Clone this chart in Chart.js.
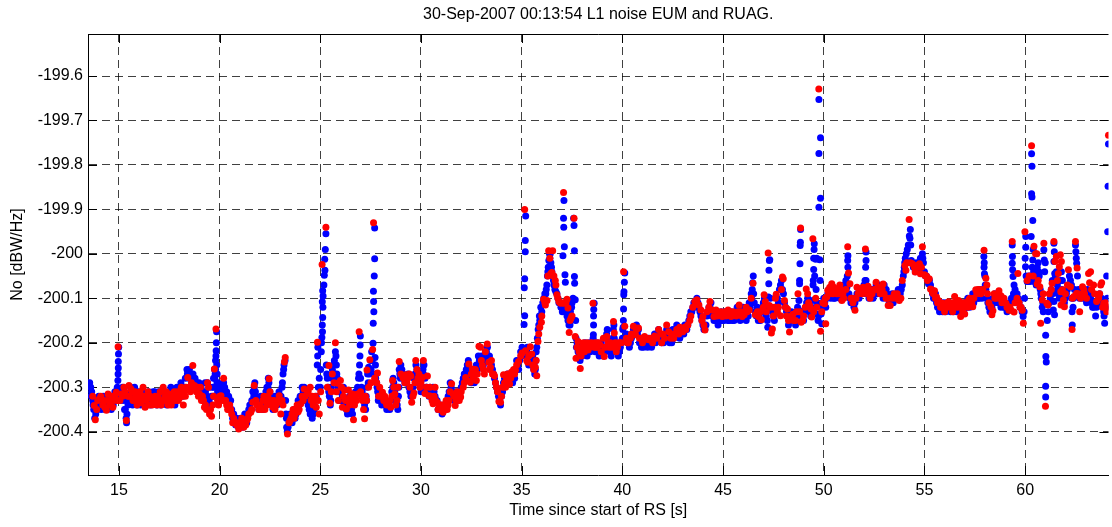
<!DOCTYPE html>
<html>
<head>
<meta charset="utf-8">
<script src="https://cdn.jsdelivr.net/npm/chart.js@4/dist/chart.umd.min.js"></script>
<style>
  html, body { margin: 0; padding: 0; background: #ffffff; overflow: hidden; }
  #wrap { width: 1112px; height: 527px; }
</style>
</head>
<body>
<div id="wrap"><canvas id="noise" width="1112" height="527"></canvas></div>
<script>
// Tick positions
const xTicks = [15, 20, 25, 30, 35, 40, 45, 50, 55, 60];
const yTicks = [-200.4, -200.3, -200.2, -200.1, -200.0, -199.9, -199.8, -199.7, -199.6];

// EUM L1 noise estimate [time s, No dBW/Hz]
const eumNoise = [
  [13.55,-200.29],[13.6,-200.30],[13.65,-200.31],[13.7,-200.33],[13.75,-200.35],[13.8,-200.37],[13.85,-200.36],[13.9,-200.34],
  [14.0,-200.32],[14.1,-200.33],[14.2,-200.34],[14.3,-200.33],[14.4,-200.32],[14.5,-200.34],[14.6,-200.33],[14.7,-200.32],
  [14.8,-200.31],[14.9,-200.32],[14.95,-200.285],[14.96,-200.27],[14.97,-200.257],[14.97,-200.242],[14.98,-200.225],[14.99,-200.21],
  [15.05,-200.31],[15.15,-200.32],[15.25,-200.33],[15.32,-200.35],[15.36,-200.37],[15.4,-200.36],[15.45,-200.34],[15.5,-200.32],
  [15.6,-200.31],[15.7,-200.33],[15.8,-200.32],[15.9,-200.34],[16.0,-200.33],[16.1,-200.32],[16.2,-200.33],[16.3,-200.34],
  [16.4,-200.32],[16.5,-200.33],[16.6,-200.32],[16.7,-200.31],[16.8,-200.33],[16.9,-200.32],[17.0,-200.33],[17.1,-200.32],
  [17.2,-200.31],[17.3,-200.33],[17.4,-200.32],[17.5,-200.31],[17.6,-200.32],[17.7,-200.33],[17.8,-200.31],[17.9,-200.32],
  [18.0,-200.30],[18.1,-200.31],[18.2,-200.30],[18.3,-200.28],[18.4,-200.27],[18.5,-200.26],[18.6,-200.28],[18.7,-200.29],
  [18.8,-200.30],[18.9,-200.31],[19.0,-200.31],[19.1,-200.32],[19.2,-200.33],[19.3,-200.31],[19.4,-200.29],[19.5,-200.30],
  [19.6,-200.32],[19.65,-200.30],[19.7,-200.28],[19.75,-200.26],[19.78,-200.27],[19.8,-200.24],[19.82,-200.23],[19.83,-200.218],
  [19.84,-200.20],[19.85,-200.175],[19.87,-200.29],[19.9,-200.31],[19.95,-200.33],[20.0,-200.32],[20.1,-200.30],[20.2,-200.29],
  [20.25,-200.30],[20.3,-200.32],[20.4,-200.33],[20.5,-200.34],[20.6,-200.35],[20.7,-200.36],[20.75,-200.375],[20.8,-200.385],
  [20.9,-200.38],[21.0,-200.385],[21.1,-200.38],[21.2,-200.375],[21.3,-200.37],[21.4,-200.36],[21.5,-200.34],[21.6,-200.33],
  [21.7,-200.32],[21.72,-200.30],[21.75,-200.29],[21.8,-200.32],[21.9,-200.34],[22.0,-200.33],[22.1,-200.34],[22.2,-200.33],
  [22.3,-200.31],[22.4,-200.30],[22.45,-200.29],[22.5,-200.31],[22.6,-200.33],[22.7,-200.34],[22.8,-200.33],[22.9,-200.32],
  [23.0,-200.33],[23.1,-200.30],[23.15,-200.27],[23.2,-200.25],[23.25,-200.24],[23.3,-200.36],[23.33,-200.39],[23.36,-200.40],
  [23.45,-200.38],[23.55,-200.37],[23.65,-200.36],[23.75,-200.37],[23.85,-200.35],[23.95,-200.34],[24.05,-200.33],[24.15,-200.31],
  [24.2,-200.30],[24.3,-200.32],[24.4,-200.34],[24.5,-200.36],[24.6,-200.37],[24.7,-200.35],[24.8,-200.32],[24.85,-200.25],
  [24.87,-200.23],[24.88,-200.21],[25.0,-200.30],[25.05,-200.22],[25.08,-200.188],[25.1,-200.16],[25.12,-200.143],[25.1,-200.108],
  [25.14,-200.095],[25.12,-200.083],[25.2,-200.048],[25.23,-200.037],[25.22,-200.012],[25.28,-199.955],[25.3,-200.25],[25.35,-200.28],
  [25.4,-200.30],[25.45,-200.32],[25.5,-200.34],[25.55,-200.30],[25.6,-200.26],[25.7,-200.24],[25.75,-200.22],[25.8,-200.25],
  [25.85,-200.28],[25.9,-200.31],[25.95,-200.33],[26.0,-200.30],[26.1,-200.32],[26.2,-200.34],[26.3,-200.35],[26.4,-200.33],
  [26.5,-200.34],[26.6,-200.36],[26.7,-200.33],[26.8,-200.31],[26.9,-200.28],[26.95,-200.25],[26.97,-200.23],[26.98,-200.205],
  [26.99,-200.185],[27.05,-200.30],[27.1,-200.32],[27.2,-200.34],[27.3,-200.33],[27.32,-200.30],[27.35,-200.27],[27.4,-200.255],
  [27.5,-200.24],[27.55,-200.22],[27.62,-200.201],[27.63,-200.156],[27.65,-200.107],[27.64,-200.084],[27.7,-200.011],[27.7,-199.942],
  [27.72,-200.233],[27.74,-200.25],[27.76,-200.27],[27.8,-200.29],[27.85,-200.31],[27.9,-200.32],[28.0,-200.33],[28.1,-200.32],
  [28.2,-200.34],[28.3,-200.35],[28.4,-200.34],[28.5,-200.33],[28.6,-200.30],[28.65,-200.29],[28.7,-200.31],[28.8,-200.33],
  [28.85,-200.35],[28.9,-200.30],[28.95,-200.27],[29.0,-200.25],[29.1,-200.27],[29.2,-200.29],[29.3,-200.28],[29.4,-200.30],
  [29.5,-200.32],[29.6,-200.30],[29.7,-200.27],[29.8,-200.26],[29.9,-200.29],[30.0,-200.31],[30.1,-200.26],[30.15,-200.25],
  [30.2,-200.28],[30.3,-200.30],[30.4,-200.32],[30.5,-200.31],[30.6,-200.30],[30.7,-200.32],[30.8,-200.33],[30.9,-200.34],
  [31.0,-200.35],[31.1,-200.34],[31.2,-200.35],[31.3,-200.33],[31.4,-200.31],[31.5,-200.30],[31.6,-200.32],[31.7,-200.31],
  [31.8,-200.33],[31.9,-200.32],[32.0,-200.30],[32.1,-200.28],[32.2,-200.27],[32.3,-200.25],[32.35,-200.24],[32.4,-200.27],
  [32.5,-200.29],[32.6,-200.28],[32.7,-200.27],[32.8,-200.26],[32.9,-200.24],[33.0,-200.23],[33.1,-200.25],[33.2,-200.22],
  [33.3,-200.21],[33.4,-200.23],[33.5,-200.25],[33.6,-200.27],[33.7,-200.29],[33.8,-200.31],[33.9,-200.33],[34.0,-200.32],
  [34.1,-200.29],[34.2,-200.28],[34.3,-200.27],[34.4,-200.29],[34.5,-200.28],[34.6,-200.27],[34.7,-200.26],[34.8,-200.25],
  [34.9,-200.24],[35.0,-200.23],[35.05,-200.22],[35.12,-200.159],[35.15,-200.139],[35.13,-200.076],[35.15,-200.056],[35.18,-199.995],
  [35.18,-199.97],[35.2,-199.915],[35.25,-200.22],[35.3,-200.24],[35.4,-200.23],[35.5,-200.25],[35.6,-200.26],[35.65,-200.27],
  [35.7,-200.24],[35.75,-200.21],[35.85,-200.16],[35.9,-200.15],[36.0,-200.13],[36.1,-200.10],[36.2,-200.09],[36.25,-200.07],
  [36.3,-200.04],[36.35,-200.015],[36.4,-200.01],[36.45,-200.02],[36.5,-200.04],[36.55,-200.05],[36.6,-200.07],[36.7,-200.085],
  [36.8,-200.10],[36.9,-200.11],[37.0,-200.12],[37.05,-200.004],[37.08,-199.92],[37.09,-199.94],[37.1,-199.88],[37.12,-199.984],
  [37.15,-200.047],[37.17,-200.064],[37.2,-200.13],[37.3,-200.15],[37.4,-200.16],[37.45,-200.14],[37.5,-200.11],[37.58,-199.92],
  [37.6,-199.936],[37.62,-199.993],[37.62,-200.051],[37.63,-200.066],[37.66,-200.103],[37.7,-200.19],[37.75,-200.20],[37.8,-200.22],
  [37.9,-200.24],[38.0,-200.23],[38.1,-200.21],[38.2,-200.22],[38.3,-200.21],[38.4,-200.22],[38.5,-200.20],[38.56,-200.182],
  [38.57,-200.16],[38.57,-200.14],[38.58,-200.125],[38.6,-200.111],[38.7,-200.21],[38.8,-200.22],[38.9,-200.21],[39.0,-200.22],
  [39.1,-200.21],[39.2,-200.19],[39.25,-200.17],[39.3,-200.20],[39.4,-200.22],[39.5,-200.20],[39.55,-200.17],[39.58,-200.16],
  [39.6,-200.19],[39.7,-200.22],[39.8,-200.23],[39.9,-200.21],[40.0,-200.19],[40.05,-200.15],[40.06,-200.124],[40.07,-200.092],
  [40.08,-200.085],[40.1,-200.064],[40.12,-200.043],[40.2,-200.18],[40.3,-200.19],[40.4,-200.20],[40.5,-200.18],[40.6,-200.17],
  [40.7,-200.16],[40.8,-200.17],[40.9,-200.19],[41.0,-200.20],[41.1,-200.19],[41.2,-200.20],[41.3,-200.19],[41.4,-200.20],
  [41.5,-200.19],[41.6,-200.18],[41.7,-200.19],[41.8,-200.17],[41.9,-200.18],[42.0,-200.19],[42.1,-200.18],[42.2,-200.17],
  [42.3,-200.18],[42.4,-200.19],[42.5,-200.17],[42.6,-200.18],[42.7,-200.16],[42.8,-200.17],[42.9,-200.18],[43.0,-200.17],
  [43.1,-200.16],[43.2,-200.17],[43.3,-200.15],[43.4,-200.13],[43.5,-200.12],[43.6,-200.11],[43.7,-200.10],[43.8,-200.12],
  [43.9,-200.14],[44.0,-200.16],[44.1,-200.17],[44.2,-200.14],[44.3,-200.12],[44.4,-200.11],[44.5,-200.13],[44.6,-200.14],
  [44.7,-200.15],[44.8,-200.14],[44.9,-200.13],[45.0,-200.14],[45.1,-200.13],[45.2,-200.14],[45.3,-200.15],[45.4,-200.13],
  [45.5,-200.14],[45.6,-200.13],[45.7,-200.12],[45.8,-200.14],[45.9,-200.13],[46.0,-200.12],[46.1,-200.14],[46.2,-200.13],
  [46.3,-200.11],[46.4,-200.09],[46.45,-200.08],[46.5,-200.05],[46.55,-200.11],[46.6,-200.13],[46.7,-200.12],[46.8,-200.14],
  [46.9,-200.13],[47.0,-200.11],[47.05,-200.10],[47.22,-200.165],[47.24,-200.127],[47.25,-200.097],[47.27,-200.067],[47.28,-200.037],
  [47.3,-200.015],[47.32,-200.013],[47.4,-200.12],[47.5,-200.14],[47.6,-200.12],[47.7,-200.10],[47.8,-200.08],[47.9,-200.06],
  [48.0,-200.09],[48.1,-200.12],[48.2,-200.14],[48.3,-200.15],[48.4,-200.13],[48.5,-200.14],[48.6,-200.16],[48.7,-200.12],
  [48.76,-200.127],[48.77,-200.105],[48.8,-200.067],[48.8,-200.06],[48.82,-200.022],[48.83,-199.981],[48.84,-199.974],[48.85,-199.945],
  [48.9,-200.13],[49.0,-200.15],[49.1,-200.12],[49.2,-200.10],[49.3,-200.13],[49.4,-200.12],[49.45,-200.127],[49.45,-200.105],
  [49.47,-200.07],[49.48,-200.06],[49.5,-200.035],[49.5,-200.01],[49.52,-199.99],[49.53,-199.977],[49.6,-200.012],[49.65,-200.01],
  [49.7,-200.135],[49.72,-200.15],[49.76,-199.653],[49.84,-199.739],[49.76,-199.774],[49.84,-199.875],[49.76,-199.895],[49.8,-200.013],
  [49.85,-200.112],[49.87,-200.135],[49.9,-200.157],[50.0,-200.10],[50.1,-200.12],[50.2,-200.09],[50.3,-200.08],[50.4,-200.09],
  [50.5,-200.10],[50.6,-200.08],[50.7,-200.09],[50.8,-200.10],[50.9,-200.09],[51.0,-200.07],[51.1,-200.06],[51.15,-200.075],
  [51.17,-200.05],[51.2,-200.03],[51.19,-200.015],[51.2,-200.004],[51.3,-200.10],[51.4,-200.11],[51.5,-200.12],[51.6,-200.10],
  [51.7,-200.09],[51.8,-200.08],[51.9,-200.09],[52.0,-200.07],[52.1,-200.09],[52.1,-200.06],[52.08,-200.03],[52.1,-200.015],
  [52.1,-199.996],[52.2,-200.08],[52.3,-200.09],[52.4,-200.08],[52.5,-200.09],[52.6,-200.07],[52.7,-200.08],[52.8,-200.09],
  [52.9,-200.08],[53.0,-200.07],[53.1,-200.08],[53.2,-200.10],[53.3,-200.11],[53.4,-200.09],[53.5,-200.10],[53.6,-200.09],
  [53.7,-200.08],[53.8,-200.09],[53.9,-200.07],[53.95,-200.05],[54.0,-200.03],[54.05,-200.01],[54.15,-199.99],[54.2,-199.98],
  [54.25,-199.96],[54.3,-199.945],[54.35,-200.015],[54.4,-200.02],[54.5,-200.03],[54.6,-200.02],[54.7,-200.03],[54.8,-200.01],
  [54.9,-200.00],[54.95,-200.02],[55.0,-200.04],[55.1,-200.05],[55.2,-200.067],[55.3,-200.07],[55.4,-200.09],[55.5,-200.10],
  [55.6,-200.11],[55.7,-200.12],[55.8,-200.11],[55.9,-200.13],[56.0,-200.12],[56.1,-200.11],[56.2,-200.12],[56.3,-200.13],
  [56.4,-200.12],[56.5,-200.11],[56.6,-200.13],[56.7,-200.12],[56.8,-200.13],[56.9,-200.12],[57.0,-200.11],[57.1,-200.12],
  [57.2,-200.11],[57.3,-200.10],[57.4,-200.09],[57.5,-200.10],[57.6,-200.09],[57.7,-200.10],[57.8,-200.09],[57.95,-200.006],
  [57.97,-200.02],[57.96,-200.03],[57.98,-200.045],[58.0,-200.05],[58.02,-200.07],[58.1,-200.10],[58.2,-200.12],[58.3,-200.13],
  [58.4,-200.10],[58.5,-200.09],[58.6,-200.10],[58.7,-200.11],[58.8,-200.12],[58.9,-200.11],[59.0,-200.12],[59.1,-200.13],
  [59.2,-200.12],[59.3,-200.11],[59.36,-199.98],[59.37,-200.006],[59.36,-200.021],[59.38,-200.036],[59.4,-200.051],[59.45,-200.07],
  [59.5,-200.08],[59.6,-200.09],[59.7,-200.11],[59.8,-200.12],[59.9,-200.141],[59.95,-200.13],[60.02,-200.029],[60.0,-200.01],
  [60.03,-199.985],[60.03,-199.961],[60.1,-200.062],[60.15,-200.062],[60.25,-200.062],[60.3,-199.961],[60.32,-199.775],[60.34,-199.803],
  [60.32,-199.865],[60.34,-199.872],[60.38,-199.925],[60.4,-199.99],[60.38,-200.014],[60.4,-200.051],[60.45,-200.062],[60.5,-200.062],
  [60.55,-200.07],[60.6,-200.03],[60.65,-200.02],[60.7,-200.05],[60.75,-200.08],[60.8,-200.10],[60.85,-200.12],[60.9,-200.13],
  [60.93,-199.991],[60.95,-200.014],[61.0,-200.02],[61.02,-200.183],[61.03,-200.231],[61.05,-200.243],[61.02,-200.298],[61.02,-200.322],
  [61.1,-200.15],[61.2,-200.11],[61.3,-200.08],[61.43,-199.976],[61.45,-199.995],[61.43,-200.017],[61.47,-200.044],[61.45,-200.062],
  [61.4,-200.089],[61.43,-200.107],[61.4,-200.126],[61.46,-200.137],[61.55,-200.04],[61.6,-200.07],[61.65,-200.09],[61.7,-200.10],
  [61.8,-200.04],[61.85,-200.06],[61.9,-200.09],[62.0,-200.10],[62.1,-200.08],[62.2,-200.05],[62.3,-200.07],[62.32,-200.10],
  [62.33,-200.13],[62.34,-200.16],[62.4,-200.10],[62.5,-199.98],[62.52,-199.995],[62.54,-200.01],[62.56,-200.021],[62.6,-200.05],
  [62.7,-200.10],[62.8,-200.09],[62.9,-200.08],[63.0,-200.10],[63.1,-200.08],[63.2,-200.09],[63.3,-200.11],[63.4,-200.12],
  [63.5,-200.14],[63.6,-200.11],[63.7,-200.09],[63.8,-200.10],[63.9,-200.13],[63.95,-200.156],[64.05,-200.05],[64.1,-199.95],
  [64.12,-199.848],[64.14,-199.753],
  [13.62,-200.32],[13.72,-200.34],[13.82,-200.33],[13.92,-200.35],[14.02,-200.34],[14.12,-200.35],[14.22,-200.32],[14.32,-200.35],
  [14.42,-200.34],[14.52,-200.32],[14.62,-200.35],[14.72,-200.34],[14.82,-200.33],[14.92,-200.30],[15.08,-200.33],[15.18,-200.30],
  [15.28,-200.35],[15.38,-200.38],[15.48,-200.33],[15.58,-200.30],[15.68,-200.34],[15.78,-200.30],[15.88,-200.33],[15.98,-200.31],
  [16.08,-200.34],[16.18,-200.31],[16.28,-200.32],[16.38,-200.34],[16.48,-200.31],[16.58,-200.34],[16.68,-200.33],[16.78,-200.31],
  [16.88,-200.34],[16.98,-200.31],[17.08,-200.34],[17.18,-200.33],[17.28,-200.31],[17.38,-200.34],[17.48,-200.33],[17.58,-200.30],
  [17.68,-200.31],[17.78,-200.34],[17.88,-200.30],[17.98,-200.32],[18.08,-200.29],[18.18,-200.32],[18.28,-200.30],[18.38,-200.26],
  [18.48,-200.28],[18.58,-200.27],[18.68,-200.27],[18.78,-200.28],[18.88,-200.29],[18.98,-200.29],[19.08,-200.30],[19.18,-200.31],
  [19.28,-200.29],[19.38,-200.32],[19.48,-200.33],[19.58,-200.34],[19.68,-200.32],[19.72,-200.30],[19.76,-200.28],[19.80,-200.26],
  [19.86,-200.25],[19.88,-200.27],[19.92,-200.29],[19.98,-200.30],[20.05,-200.31],[20.15,-200.31],[20.22,-200.30],[20.35,-200.31],
  [20.45,-200.32],[20.55,-200.33],[20.65,-200.37],[20.72,-200.38],[20.85,-200.37],[20.95,-200.39],[21.05,-200.37],[21.15,-200.39],
  [21.25,-200.36],[21.35,-200.38],[21.45,-200.35],[21.55,-200.35],[21.65,-200.31],[21.78,-200.31],[21.85,-200.33],[21.95,-200.35],
  [22.05,-200.32],[22.15,-200.35],[22.25,-200.32],[22.35,-200.30],[22.42,-200.28],[22.55,-200.32],[22.65,-200.35],[22.75,-200.32],
  [22.85,-200.34],[22.95,-200.31],[23.05,-200.32],[23.12,-200.29],[23.18,-200.26],[23.28,-200.33],[23.32,-200.37],[23.40,-200.39],
  [23.50,-200.36],[23.60,-200.38],[23.70,-200.35],[23.80,-200.36],[23.90,-200.33],[24.00,-200.32],[24.10,-200.30],[24.25,-200.33],
  [24.35,-200.33],[24.45,-200.35],[24.55,-200.35],[24.65,-200.36],[24.75,-200.33],[24.90,-200.30],[24.95,-200.28],[25.02,-200.26],
  [25.06,-200.20],[25.11,-200.175],[25.13,-200.12],[25.18,-200.07],[25.25,-199.99],[25.32,-200.27],[25.42,-200.31],[25.52,-200.33],
  [25.58,-200.28],[25.65,-200.25],[25.72,-200.27],[25.78,-200.23],[25.82,-200.27],[25.88,-200.30],[25.98,-200.31],[26.05,-200.33],
  [26.15,-200.30],[26.25,-200.33],[26.35,-200.36],[26.45,-200.32],[26.55,-200.35],[26.65,-200.34],[26.75,-200.31],[26.85,-200.30],
  [26.92,-200.27],[27.00,-200.28],[27.08,-200.31],[27.15,-200.33],[27.25,-200.35],[27.28,-200.32],[27.38,-200.29],[27.45,-200.27],
  [27.52,-200.26],[27.58,-200.24],[27.66,-200.13],[27.68,-200.05],[27.75,-200.28],[27.82,-200.30],[27.88,-200.33],[27.95,-200.31],
  [28.05,-200.34],[28.15,-200.33],[28.25,-200.33],[28.35,-200.34],[28.45,-200.35],[28.55,-200.31],[28.62,-200.28],[28.75,-200.33],
  [28.82,-200.34],[28.88,-200.32],[28.92,-200.26],[28.98,-200.28],[29.05,-200.26],[29.15,-200.28],[29.25,-200.29],[29.35,-200.27],
  [29.45,-200.31],[29.55,-200.31],[29.65,-200.28],[29.75,-200.25],[29.85,-200.28],[29.95,-200.30],[30.05,-200.28],[30.12,-200.27],
  [30.25,-200.30],[30.35,-200.31],[30.45,-200.30],[30.55,-200.32],[30.65,-200.31],[30.75,-200.33],[30.85,-200.35],[30.95,-200.35],
  [31.05,-200.36],[31.15,-200.35],[31.25,-200.34],[31.35,-200.32],[31.45,-200.29],[31.55,-200.31],[31.65,-200.33],[31.75,-200.32],
  [31.85,-200.31],[31.95,-200.31],[32.05,-200.29],[32.15,-200.27],[32.25,-200.26],[32.32,-200.26],[32.45,-200.28],[32.55,-200.27],
  [32.65,-200.29],[32.75,-200.25],[32.85,-200.23],[32.95,-200.25],[33.05,-200.24],[33.15,-200.23],[33.25,-200.22],[33.35,-200.24],
  [33.45,-200.24],[33.55,-200.26],[33.65,-200.28],[33.75,-200.30],[33.85,-200.32],[33.95,-200.34],[34.05,-200.31],[34.15,-200.28],
  [34.25,-200.29],[34.35,-200.28],[34.45,-200.27],[34.55,-200.29],[34.65,-200.28],[34.75,-200.24],[34.85,-200.26],[34.95,-200.22],
  [35.02,-200.21],[35.22,-200.23],[35.28,-200.21],[35.35,-200.25],[35.45,-200.24],[35.55,-200.23],[35.62,-200.25],[35.68,-200.26],
  [35.72,-200.22],[35.78,-200.19],[35.82,-200.17],[35.88,-200.14],[35.95,-200.12],[36.05,-200.11],[36.15,-200.09],[36.22,-200.08],
  [36.28,-200.05],[36.32,-200.03],[36.38,-200.00],[36.42,-200.00],[36.48,-200.03],[36.52,-200.05],[36.58,-200.06],[36.65,-200.08],
  [36.75,-200.09],[36.85,-200.11],[36.95,-200.12],[37.02,-200.13],[37.25,-200.14],[37.35,-200.16],[37.42,-200.13],[37.48,-200.12],
  [37.55,-200.10],[37.68,-200.15],[37.72,-200.21],[37.78,-200.20],[37.85,-200.23],[37.95,-200.22],[38.05,-200.22],[38.15,-200.20],
  [38.25,-200.23],[38.35,-200.20],[38.45,-200.21],[38.55,-200.19],[38.65,-200.22],[38.75,-200.20],[38.85,-200.23],[38.95,-200.20],
  [39.05,-200.23],[39.15,-200.22],[39.22,-200.18],[39.35,-200.21],[39.45,-200.23],[39.52,-200.19],[39.65,-200.21],[39.75,-200.20],
  [39.85,-200.22],[39.95,-200.20],[40.02,-200.17],[40.04,-200.165],[40.15,-200.19],[40.25,-200.20],[40.35,-200.21],[40.45,-200.19],
  [40.55,-200.17],[40.65,-200.18],[40.75,-200.18],[40.85,-200.20],[40.95,-200.21],[41.05,-200.21],[41.15,-200.20],[41.25,-200.21],
  [41.35,-200.20],[41.45,-200.21],[41.55,-200.20],[41.65,-200.20],[41.75,-200.18],[41.85,-200.19],[41.95,-200.20],[42.05,-200.20],
  [42.15,-200.19],[42.25,-200.18],[42.35,-200.20],[42.45,-200.20],[42.55,-200.19],[42.65,-200.17],[42.75,-200.18],[42.85,-200.19],
  [42.95,-200.18],[43.05,-200.18],[43.15,-200.17],[43.25,-200.16],[43.35,-200.14],[43.45,-200.13],[43.55,-200.11],[43.65,-200.12],
  [43.75,-200.11],[43.85,-200.13],[43.95,-200.15],[44.05,-200.17],[44.15,-200.16],[44.25,-200.13],[44.35,-200.12],[44.45,-200.14],
  [44.55,-200.15],[44.65,-200.15],[44.75,-200.16],[44.85,-200.15],[44.95,-200.15],[45.05,-200.15],[45.15,-200.14],[45.25,-200.15],
  [45.35,-200.14],[45.45,-200.15],[45.55,-200.15],[45.65,-200.14],[45.75,-200.13],[45.85,-200.15],[45.95,-200.14],[46.05,-200.13],
  [46.15,-200.15],[46.25,-200.14],[46.35,-200.12],[46.42,-200.10],[46.47,-200.065],[46.52,-200.09],[46.65,-200.14],[46.75,-200.15],
  [46.85,-200.15],[46.95,-200.12],[47.10,-200.12],[47.15,-200.14],[47.20,-200.15],[47.35,-200.10],[47.45,-200.13],[47.55,-200.15],
  [47.65,-200.13],[47.75,-200.11],[47.85,-200.07],[47.95,-200.08],[48.05,-200.11],[48.15,-200.13],[48.25,-200.16],[48.35,-200.14],
  [48.45,-200.15],[48.55,-200.15],[48.65,-200.13],[48.72,-200.14],[48.95,-200.14],[49.05,-200.13],[49.15,-200.11],[49.25,-200.12],
  [49.35,-200.14],[49.55,-200.05],[49.62,-200.08],[49.68,-200.11],[49.74,-200.14],[49.82,-200.06],[49.95,-200.12],[50.05,-200.11],
  [50.15,-200.10],[50.25,-200.08],[50.35,-200.10],[50.45,-200.08],[50.55,-200.10],[50.65,-200.09],[50.75,-200.08],[50.85,-200.10],
  [50.95,-200.08],[51.05,-200.09],[51.12,-200.07],[51.25,-200.09],[51.35,-200.11],[51.45,-200.10],[51.55,-200.11],[51.65,-200.09],
  [51.75,-200.10],[51.85,-200.08],[51.95,-200.08],[52.05,-200.06],[52.15,-200.08],[52.25,-200.10],[52.35,-200.08],[52.45,-200.10],
  [52.55,-200.08],[52.65,-200.09],[52.75,-200.07],[52.85,-200.09],[52.95,-200.10],[53.05,-200.08],[53.15,-200.09],[53.25,-200.11],
  [53.35,-200.10],[53.45,-200.11],[53.55,-200.10],[53.65,-200.10],[53.75,-200.09],[53.85,-200.08],[53.98,-200.04],[54.02,-200.02],
  [54.10,-200.00],[54.28,-199.965],[54.32,-199.98],[54.45,-200.03],[54.55,-200.04],[54.65,-200.03],[54.75,-200.04],[54.85,-200.02],
  [54.92,-200.01],[55.05,-200.05],[55.15,-200.06],[55.25,-200.06],[55.35,-200.08],[55.45,-200.10],[55.55,-200.09],[55.65,-200.12],
  [55.75,-200.13],[55.85,-200.12],[55.95,-200.11],[56.05,-200.13],[56.15,-200.12],[56.25,-200.11],[56.35,-200.12],[56.45,-200.13],
  [56.55,-200.12],[56.65,-200.11],[56.75,-200.12],[56.85,-200.11],[56.95,-200.13],[57.05,-200.12],[57.15,-200.10],[57.25,-200.12],
  [57.35,-200.10],[57.45,-200.11],[57.55,-200.09],[57.65,-200.10],[57.75,-200.08],[57.85,-200.10],[57.92,-200.08],[58.05,-200.08],
  [58.15,-200.11],[58.25,-200.13],[58.35,-200.12],[58.45,-200.11],[58.55,-200.10],[58.65,-200.11],[58.75,-200.10],[58.85,-200.11],
  [58.95,-200.12],[59.05,-200.11],[59.15,-200.12],[59.25,-200.11],[59.32,-200.10],[59.42,-200.09],[59.55,-200.10],[59.65,-200.10],
  [59.75,-200.12],[59.85,-200.13],[59.97,-200.10],[60.05,-200.05],[60.20,-200.05],[60.35,-200.03],[60.42,-200.04],[60.58,-200.05],
  [60.68,-200.04],[60.78,-200.09],[60.88,-200.11],[60.97,-200.04],[61.15,-200.13],[61.25,-200.10],[61.35,-200.06],[61.50,-200.05],
  [61.62,-200.08],[61.75,-200.06],[61.82,-200.08],[61.95,-200.11],[62.05,-200.09],[62.15,-200.07],[62.25,-200.06],[62.38,-200.12],
  [62.45,-200.08],[62.65,-200.08],[62.75,-200.09],[62.85,-200.10],[62.95,-200.09],[63.05,-200.11],[63.15,-200.09],[63.25,-200.10],
  [63.35,-200.12],[63.45,-200.11],[63.55,-200.12],[63.65,-200.10],[63.75,-200.11],[63.85,-200.12],[63.92,-200.14],[64.00,-200.12],
  [64.08,-200.10]
];

// RUAG L1 noise estimate [time s, No dBW/Hz]
const ruagNoise = [
  [13.77,-200.341],[13.83,-200.373],[13.95,-200.33],[14.05,-200.326],[14.2,-200.34],[14.3,-200.345],[14.38,-200.352],[14.46,-200.315],
  [14.6,-200.33],[14.7,-200.345],[14.8,-200.32],[14.87,-200.311],[14.96,-200.209],[15.12,-200.315],[15.25,-200.30],[15.37,-200.375],
  [15.5,-200.296],[15.53,-200.32],[15.6,-200.304],[15.7,-200.33],[15.8,-200.31],[15.9,-200.34],[16.0,-200.32],[16.1,-200.335],
  [16.2,-200.30],[16.3,-200.345],[16.4,-200.32],[16.5,-200.34],[16.6,-200.325],[16.7,-200.335],[16.8,-200.32],[16.9,-200.34],
  [17.0,-200.33],[17.1,-200.34],[17.2,-200.30],[17.3,-200.32],[17.4,-200.33],[17.5,-200.315],[17.6,-200.34],[17.7,-200.32],
  [17.8,-200.33],[17.9,-200.31],[18.0,-200.325],[18.1,-200.30],[18.2,-200.34],[18.3,-200.32],[18.42,-200.278],[18.5,-200.30],
  [18.6,-200.29],[18.67,-200.251],[18.75,-200.296],[18.85,-200.31],[18.9,-200.30],[19.0,-200.315],[19.1,-200.33],[19.15,-200.32],
  [19.25,-200.345],[19.35,-200.35],[19.4,-200.29],[19.45,-200.30],[19.5,-200.36],[19.6,-200.365],[19.66,-200.34],[19.74,-200.259],
  [19.82,-200.169],[19.9,-200.33],[20.0,-200.32],[20.07,-200.319],[20.2,-200.28],[20.25,-200.33],[20.35,-200.34],[20.45,-200.35],
  [20.55,-200.35],[20.65,-200.38],[20.75,-200.38],[20.85,-200.385],[20.95,-200.394],[21.05,-200.39],[21.15,-200.38],[21.3,-200.385],
  [21.4,-200.37],[21.55,-200.356],[21.65,-200.334],[21.72,-200.296],[21.85,-200.34],[21.95,-200.35],[22.05,-200.345],[22.15,-200.33],
  [22.25,-200.35],[22.35,-200.34],[22.46,-200.281],[22.55,-200.33],[22.65,-200.345],[22.75,-200.35],[22.85,-200.335],[22.96,-200.319],
  [23.04,-200.36],[23.1,-200.33],[23.22,-200.243],[23.26,-200.233],[23.37,-200.405],[23.5,-200.375],[23.6,-200.36],[23.7,-200.37],
  [23.8,-200.35],[23.9,-200.355],[24.03,-200.337],[24.1,-200.32],[24.2,-200.304],[24.35,-200.315],[24.5,-200.30],[24.6,-200.32],
  [24.7,-200.33],[24.8,-200.345],[24.86,-200.199],[24.95,-200.36],[25.09,-200.024],[25.28,-199.94],[25.43,-200.251],[25.48,-200.336],
  [25.6,-200.27],[25.68,-200.29],[25.75,-200.20],[25.85,-200.291],[26.0,-200.285],[26.1,-200.345],[26.2,-200.306],[26.3,-200.349],
  [26.4,-200.306],[26.5,-200.32],[26.6,-200.315],[26.65,-200.373],[26.75,-200.32],[26.85,-200.315],[26.93,-200.175],[27.05,-200.32],
  [27.2,-200.371],[27.24,-200.32],[27.32,-200.261],[27.46,-200.238],[27.52,-200.29],[27.6,-200.215],[27.645,-199.93],[27.84,-200.268],
  [27.95,-200.30],[28.09,-200.311],[28.2,-200.32],[28.26,-200.334],[28.4,-200.337],[28.5,-200.345],[28.59,-200.285],[28.7,-200.315],
  [28.8,-200.33],[28.92,-200.242],[29.08,-200.275],[29.2,-200.29],[29.25,-200.272],[29.3,-200.29],[29.42,-200.27],[29.5,-200.275],
  [29.54,-200.334],[29.65,-200.313],[29.74,-200.24],[29.8,-200.26],[29.9,-200.27],[30.07,-200.278],[30.12,-200.24],[30.2,-200.314],
  [30.32,-200.275],[30.4,-200.319],[30.5,-200.32],[30.6,-200.337],[30.7,-200.30],[30.73,-200.33],[30.8,-200.334],[30.9,-200.34],
  [31.0,-200.35],[31.1,-200.356],[31.2,-200.345],[31.3,-200.35],[31.4,-200.33],[31.52,-200.292],[31.6,-200.315],[31.7,-200.341],
  [31.8,-200.31],[31.9,-200.33],[31.97,-200.322],[32.1,-200.30],[32.22,-200.278],[32.3,-200.285],[32.38,-200.248],[32.45,-200.289],
  [32.55,-200.259],[32.65,-200.27],[32.75,-200.285],[32.88,-200.208],[32.96,-200.21],[33.05,-200.251],[33.15,-200.27],[33.29,-200.203],
  [33.37,-200.244],[33.45,-200.255],[33.55,-200.27],[33.65,-200.274],[33.75,-200.30],[33.87,-200.332],[33.95,-200.334],[34.05,-200.30],
  [34.1,-200.272],[34.2,-200.30],[34.3,-200.27],[34.4,-200.293],[34.5,-200.266],[34.6,-200.26],[34.69,-200.262],[34.85,-200.242],
  [35.02,-200.223],[35.15,-199.90],[35.19,-200.218],[35.3,-200.244],[35.43,-200.209],[35.5,-200.225],[35.55,-200.25],[35.68,-200.255],
  [35.75,-200.274],[35.81,-200.197],[35.9,-200.165],[35.98,-200.154],[36.09,-200.102],[36.18,-200.115],[36.26,-200.105],[36.34,-199.993],
  [36.45,-200.044],[36.54,-199.993],[36.5,-200.042],[36.6,-200.05],[36.67,-200.06],[36.75,-200.092],[36.85,-200.107],[36.95,-200.111],
  [37.08,-199.862],[37.1,-200.111],[37.16,-200.11],[37.25,-200.102],[37.3,-200.122],[37.36,-200.177],[37.45,-200.145],[37.6,-199.92],
  [37.66,-200.186],[37.7,-200.235],[37.8,-200.197],[37.91,-200.258],[38.07,-200.20],[38.2,-200.21],[38.3,-200.216],[38.4,-200.205],
  [38.54,-200.111],[38.65,-200.20],[38.75,-200.21],[38.9,-200.205],[39.06,-200.19],[39.1,-200.231],[39.23,-200.186],[39.35,-200.21],
  [39.56,-200.152],[39.6,-200.178],[39.7,-200.22],[39.85,-200.20],[40.06,-200.04],[40.12,-200.163],[40.25,-200.20],[40.4,-200.19],
  [40.55,-200.163],[40.65,-200.182],[40.8,-200.167],[40.95,-200.19],[41.1,-200.186],[41.3,-200.193],[41.4,-200.19],[41.6,-200.185],
  [41.8,-200.17],[41.95,-200.20],[42.1,-200.19],[42.2,-200.16],[42.3,-200.175],[42.45,-200.18],[42.55,-200.19],[42.7,-200.17],
  [42.85,-200.165],[43.0,-200.175],[43.1,-200.165],[43.25,-200.16],[43.4,-200.14],[43.6,-200.107],[43.7,-200.103],[43.8,-200.115],
  [43.9,-200.126],[44.0,-200.141],[44.1,-200.171],[44.35,-200.107],[44.45,-200.126],[44.55,-200.141],[44.65,-200.126],[44.8,-200.133],
  [44.95,-200.141],[45.09,-200.13],[45.25,-200.126],[45.4,-200.141],[45.55,-200.133],[45.75,-200.13],[45.8,-200.115],[45.95,-200.141],
  [46.05,-200.137],[46.15,-200.12],[46.3,-200.126],[46.49,-200.066],[46.6,-200.137],[46.75,-200.141],[46.9,-200.148],[47.04,-200.092],
  [47.1,-200.107],[47.24,-199.998],[47.3,-200.116],[47.4,-200.178],[47.45,-200.169],[47.55,-200.12],[47.64,-200.091],[47.7,-200.13],
  [47.85,-200.139],[47.95,-200.052],[47.99,-200.056],[48.05,-200.105],[48.2,-200.124],[48.3,-200.176],[48.47,-200.136],[48.6,-200.15],
  [48.72,-200.09],[48.85,-199.942],[48.88,-200.154],[49.0,-200.14],[49.13,-200.079],[49.2,-200.09],[49.3,-200.116],[49.37,-200.124],
  [49.4,-200.142],[49.46,-199.966],[49.6,-200.10],[49.755,-199.629],[49.84,-200.174],[49.95,-200.11],[50.04,-200.112],[50.1,-200.157],
  [50.15,-200.097],[50.2,-200.082],[50.3,-200.075],[50.4,-200.067],[50.5,-200.075],[50.6,-200.082],[50.7,-200.08],[50.8,-200.07],
  [50.9,-200.105],[51.0,-200.10],[51.19,-199.984],[51.23,-200.043],[51.3,-200.067],[51.4,-200.10],[51.55,-200.127],[51.65,-200.075],
  [51.8,-200.082],[51.95,-200.075],[52.07,-199.989],[52.2,-200.073],[52.3,-200.10],[52.45,-200.082],[52.6,-200.064],[52.7,-200.075],
  [52.85,-200.082],[52.95,-200.068],[53.1,-200.10],[53.2,-200.116],[53.3,-200.116],[53.45,-200.097],[53.6,-200.10],[53.75,-200.105],
  [53.83,-200.10],[54.03,-200.026],[54.08,-200.037],[54.24,-199.923],[54.4,-200.022],[54.54,-200.041],[54.6,-200.026],[54.75,-200.022],
  [54.8,-200.045],[54.9,-199.984],[55.0,-200.047],[55.1,-200.05],[55.24,-200.056],[55.3,-200.079],[55.4,-200.087],[55.5,-200.083],
  [55.6,-200.097],[55.7,-200.105],[55.8,-200.12],[55.9,-200.111],[56.0,-200.13],[56.1,-200.111],[56.2,-200.108],[56.3,-200.115],
  [56.4,-200.13],[56.5,-200.096],[56.6,-200.119],[56.7,-200.105],[56.8,-200.141],[56.9,-200.13],[57.0,-200.135],[57.1,-200.111],
  [57.2,-200.104],[57.3,-200.108],[57.4,-200.119],[57.55,-200.081],[57.65,-200.081],[57.7,-200.08],[57.96,-199.992],[58.05,-200.055],
  [58.1,-200.07],[58.13,-200.09],[58.3,-200.119],[58.35,-200.137],[58.4,-200.128],[58.46,-200.09],[58.55,-200.096],[58.7,-200.083],
  [58.8,-200.094],[58.95,-200.10],[59.05,-200.111],[59.15,-200.119],[59.2,-200.127],[59.3,-200.127],[59.36,-199.972],[59.45,-200.131],
  [59.64,-200.044],[59.75,-200.12],[59.86,-200.127],[59.91,-200.156],[59.99,-199.95],[60.32,-199.757],[60.44,-199.983],[60.52,-200.0],
  [60.58,-200.0],[60.6,-200.068],[60.73,-200.074],[60.77,-200.156],[60.85,-200.104],[60.93,-199.976],[61.01,-200.343],[61.08,-200.111],
  [61.14,-200.115],[61.34,-200.066],[61.43,-199.972],[61.48,-200.017],[61.55,-200.006],[61.65,-200.044],[61.7,-200.029],[61.75,-200.002],
  [61.77,-200.085],[61.78,-200.115],[61.8,-200.017],[61.85,-200.081],[61.9,-200.104],[61.95,-200.119],[62.15,-200.036],[62.25,-200.074],
  [62.33,-200.17],[62.42,-200.096],[62.5,-199.972],[62.55,-200.089],[62.58,-200.032],[62.71,-200.13],[62.85,-200.074],[62.92,-200.081],
  [63.15,-200.044],[63.2,-200.065],[63.25,-200.04],[63.4,-200.07],[63.55,-200.107],[63.75,-200.07],[63.8,-200.065],[63.9,-200.111],
  [63.98,-200.12],[64.05,-200.13],[64.14,-199.733],
  [13.70,-200.32],[13.90,-200.35],[14.10,-200.32],[14.25,-200.33],[14.42,-200.33],[14.55,-200.34],[14.65,-200.32],[14.75,-200.33],
  [14.92,-200.33],[15.05,-200.33],[15.18,-200.32],[15.30,-200.31],[15.45,-200.32],[15.65,-200.31],[15.75,-200.33],[15.85,-200.32],
  [15.95,-200.33],[16.05,-200.31],[16.15,-200.33],[16.25,-200.32],[16.35,-200.33],[16.45,-200.31],[16.55,-200.32],[16.65,-200.34],
  [16.75,-200.33],[16.85,-200.33],[16.95,-200.32],[17.05,-200.31],[17.15,-200.33],[17.25,-200.33],[17.35,-200.31],[17.45,-200.34],
  [17.55,-200.32],[17.65,-200.33],[17.75,-200.31],[17.85,-200.32],[17.95,-200.33],[18.05,-200.31],[18.15,-200.32],[18.25,-200.31],
  [18.35,-200.30],[18.55,-200.31],[18.65,-200.30],[18.80,-200.30],[18.95,-200.32],[19.05,-200.30],[19.20,-200.33],[19.30,-200.34],
  [19.55,-200.35],[19.70,-200.32],[19.95,-200.34],[20.12,-200.33],[20.30,-200.33],[20.40,-200.35],[20.50,-200.34],[20.60,-200.36],
  [20.70,-200.37],[20.80,-200.38],[20.90,-200.38],[21.00,-200.385],[21.10,-200.37],[21.20,-200.39],[21.35,-200.375],[21.45,-200.36],
  [21.60,-200.35],[21.80,-200.33],[21.90,-200.34],[22.00,-200.34],[22.10,-200.35],[22.20,-200.32],[22.30,-200.33],[22.40,-200.32],
  [22.50,-200.31],[22.60,-200.34],[22.70,-200.33],[22.80,-200.34],[22.90,-200.33],[23.15,-200.34],[23.45,-200.38],[23.55,-200.37],
  [23.65,-200.35],[23.75,-200.36],[23.85,-200.34],[23.95,-200.35],[24.15,-200.33],[24.25,-200.32],[24.40,-200.31],[24.55,-200.33],
  [24.65,-200.34],[24.75,-200.32],[24.90,-200.33],[25.02,-200.31],[25.35,-200.30],[25.55,-200.31],[25.80,-200.31],[25.90,-200.33],
  [26.05,-200.30],[26.15,-200.32],[26.25,-200.33],[26.35,-200.33],[26.45,-200.34],[26.55,-200.33],[26.70,-200.34],[26.80,-200.33],
  [27.00,-200.31],[27.10,-200.33],[27.15,-200.35],[27.30,-200.33],[27.40,-200.30],[27.70,-200.28],[27.80,-200.29],[27.90,-200.32],
  [28.00,-200.32],[28.15,-200.33],[28.30,-200.34],[28.45,-200.33],[28.55,-200.32],[28.65,-200.30],[28.75,-200.34],[28.85,-200.30],
  [29.00,-200.27],[29.12,-200.28],[29.35,-200.28],[29.45,-200.30],[29.60,-200.32],[29.70,-200.29],[29.85,-200.28],[29.95,-200.30],
  [30.00,-200.29],[30.27,-200.30],[30.45,-200.30],[30.55,-200.33],[30.65,-200.32],[30.85,-200.35],[30.95,-200.34],[31.05,-200.34],
  [31.15,-200.35],[31.25,-200.33],[31.35,-200.34],[31.45,-200.31],[31.65,-200.32],[31.75,-200.33],[31.85,-200.32],[32.00,-200.31],
  [32.15,-200.29],[32.50,-200.27],[32.60,-200.28],[32.70,-200.26],[32.80,-200.27],[33.00,-200.24],[33.10,-200.26],[33.20,-200.22],
  [33.40,-200.26],[33.50,-200.24],[33.60,-200.27],[33.70,-200.29],[33.80,-200.31],[34.00,-200.32],[34.15,-200.29],[34.25,-200.28],
  [34.35,-200.29],[34.45,-200.28],[34.55,-200.27],[34.65,-200.27],[34.75,-200.25],[34.95,-200.23],[35.25,-200.24],[35.35,-200.23],
  [35.60,-200.26],[35.72,-200.24],[35.85,-200.18],[36.00,-200.14],[36.15,-200.11],[36.30,-200.05],[36.40,-200.01],[36.58,-200.05],
  [36.70,-200.07],[36.80,-200.10],[36.90,-200.11],[37.05,-200.11],[37.20,-200.11],[37.40,-200.15],[37.50,-200.14],[37.75,-200.21],
  [37.85,-200.22],[37.95,-200.23],[38.00,-200.21],[38.12,-200.22],[38.25,-200.20],[38.35,-200.21],[38.45,-200.20],[38.60,-200.21],
  [38.70,-200.21],[38.80,-200.20],[38.95,-200.22],[39.15,-200.21],[39.30,-200.20],[39.40,-200.20],[39.50,-200.21],[39.65,-200.20],
  [39.75,-200.21],[39.95,-200.20],[40.20,-200.19],[40.30,-200.20],[40.45,-200.18],[40.60,-200.18],[40.70,-200.17],[40.85,-200.19],
  [41.00,-200.20],[41.20,-200.19],[41.50,-200.20],[41.70,-200.19],[41.90,-200.18],[42.00,-200.18],[42.40,-200.19],[42.60,-200.18],
  [42.80,-200.18],[42.95,-200.17],[43.15,-200.17],[43.35,-200.15],[43.50,-200.12],[43.65,-200.11],[43.95,-200.15],[44.05,-200.16],
  [44.20,-200.13],[44.30,-200.12],[44.70,-200.14],[44.90,-200.13],[45.00,-200.14],[45.15,-200.14],[45.30,-200.13],[45.50,-200.13],
  [45.65,-200.14],[45.90,-200.13],[46.20,-200.13],[46.40,-200.10],[46.70,-200.13],[46.85,-200.13],[47.00,-200.12],[47.15,-200.13],
  [47.35,-200.12],[47.50,-200.14],[47.60,-200.10],[47.75,-200.12],[47.90,-200.08],[48.10,-200.12],[48.15,-200.14],[48.25,-200.15],
  [48.40,-200.14],[48.50,-200.15],[48.65,-200.13],[48.80,-200.13],[48.95,-200.15],[49.08,-200.12],[49.25,-200.11],[49.50,-200.13],
  [49.65,-200.12],[49.90,-200.13],[50.08,-200.10],[50.25,-200.09],[50.35,-200.08],[50.45,-200.09],[50.55,-200.08],[50.65,-200.09],
  [50.75,-200.09],[50.85,-200.08],[50.95,-200.09],[51.10,-200.08],[51.35,-200.10],[51.45,-200.11],[51.60,-200.10],[51.70,-200.09],
  [51.90,-200.09],[52.00,-200.08],[52.15,-200.09],[52.25,-200.08],[52.40,-200.09],[52.50,-200.08],[52.65,-200.08],[52.80,-200.09],
  [52.90,-200.08],[53.00,-200.09],[53.15,-200.10],[53.25,-200.10],[53.40,-200.10],[53.50,-200.09],[53.65,-200.09],[53.90,-200.06],
  [54.12,-200.02],[54.30,-200.02],[54.50,-200.03],[54.70,-200.03],[54.85,-200.03],[55.05,-200.05],[55.15,-200.06],[55.35,-200.08],
  [55.45,-200.09],[55.55,-200.10],[55.65,-200.11],[55.75,-200.11],[55.85,-200.12],[55.95,-200.12],[56.05,-200.12],[56.15,-200.12],
  [56.25,-200.11],[56.35,-200.12],[56.45,-200.11],[56.55,-200.11],[56.65,-200.12],[56.75,-200.11],[56.85,-200.12],[56.95,-200.11],
  [57.05,-200.11],[57.15,-200.12],[57.25,-200.10],[57.35,-200.11],[57.45,-200.10],[57.60,-200.09],[57.80,-200.09],[57.90,-200.08],
  [58.20,-200.11],[58.50,-200.10],[58.60,-200.10],[58.75,-200.10],[58.85,-200.11],[59.00,-200.11],[59.10,-200.12],[59.25,-200.12],
  [59.50,-200.11],[59.60,-200.10],[59.70,-200.11],[59.80,-200.12],[60.10,-200.06],[60.20,-200.05],[60.40,-200.05],[60.65,-200.06],
  [60.90,-200.09],[61.20,-200.09],[61.30,-200.08],[61.60,-200.06],[62.00,-200.09],[62.10,-200.07],[62.35,-200.10],[62.65,-200.09],
  [62.75,-200.10],[62.95,-200.09],[63.05,-200.10],[63.30,-200.08],[63.45,-200.09],[63.65,-200.10],[63.70,-200.09],[63.85,-200.12],
  [64.00,-200.11],[64.10,-200.12]
];

const toXY = pts => pts.map(([x, y]) => ({ x, y }));
const FONT = '"Liberation Sans", Arial, Helvetica, sans-serif';
const GRID_DASH = [8, 5];

// Axes box: top border line and inward tick marks on all four sides
const axesBox = {
  id: 'axesBox',
  beforeDatasetsDraw(chart) {
    const { ctx, chartArea: a, scales: { x, y } } = chart;
    ctx.save();
    ctx.strokeStyle = '#000';
    ctx.lineWidth = 1;
    ctx.beginPath();
    ctx.moveTo(a.left, a.top + 0.5);
    ctx.lineTo(a.right, a.top + 0.5);
    const tl = 9;
    xTicks.forEach(t => {
      const px = Math.round(x.getPixelForValue(t)) + 0.5;
      ctx.moveTo(px, a.bottom); ctx.lineTo(px, a.bottom - tl);
      ctx.moveTo(px, a.top); ctx.lineTo(px, a.top + tl);
    });
    yTicks.forEach(t => {
      const py = Math.round(y.getPixelForValue(t)) + 0.5;
      ctx.moveTo(a.left, py); ctx.lineTo(a.left + tl, py);
      ctx.moveTo(a.right, py); ctx.lineTo(a.right - tl, py);
    });
    ctx.stroke();
    ctx.restore();
  }
};

new Chart(document.getElementById('noise'), {
  type: 'scatter',
  data: {
    datasets: [
      {
        label: 'RUAG',
        data: toXY(ruagNoise),
        backgroundColor: '#ff0000',
        borderColor: '#ff0000',
        borderWidth: 0,
        pointRadius: 3.5,
        pointHoverRadius: 3.5
      },
      {
        label: 'EUM',
        data: toXY(eumNoise),
        backgroundColor: '#0000ff',
        borderColor: '#0000ff',
        borderWidth: 0,
        pointRadius: 3.5,
        pointHoverRadius: 3.5
      }
    ]
  },
  options: {
    responsive: false,
    animation: false,
    devicePixelRatio: 1,
    layout: { padding: { left: 0, right: 0, top: 0, bottom: 0 } },
    plugins: {
      legend: { display: false },
      tooltip: { enabled: false },
      title: {
        display: true,
        fullSize: false,
        text: '30-Sep-2007 00:13:54 L1 noise EUM and RUAG.',
        color: '#000',
        font: { family: FONT, size: 16, weight: 'normal', lineHeight: 1.2 },
        padding: { top: 5.4, bottom: 9.4 }
      }
    },
    scales: {
      x: {
        type: 'linear',
        position: 'bottom',
        min: 13.466,
        max: 64.14,
        afterBuildTicks: s => { s.ticks = xTicks.map(v => ({ value: v })); },
        afterFit: s => { s.height = 52; },
        ticks: {
          color: '#000',
          padding: 6,
          maxRotation: 0,
          autoSkip: false,
          font: { family: FONT, size: 16, lineHeight: 1.2 },
          callback: v => String(v)
        },
        grid: {
          color: 'rgba(0,0,0,0.75)',
          lineWidth: 1,
          drawTicks: false
        },
        border: { display: true, color: '#000', width: 1, dash: GRID_DASH },
        title: {
          display: true,
          text: 'Time since start of RS [s]',
          color: '#000',
          font: { family: FONT, size: 16, lineHeight: 1.2 },
          padding: { top: 0, bottom: 6.4 }
        }
      },
      y: {
        type: 'linear',
        position: 'left',
        min: -200.4974,
        max: -199.5055,
        afterBuildTicks: s => { s.ticks = yTicks.map(v => ({ value: v })); },
        afterFit: s => { s.width = 88; },
        ticks: {
          color: '#000',
          padding: 5,
          autoSkip: false,
          font: { family: FONT, size: 16, lineHeight: 1.2 },
          callback: v => String(Number(v.toFixed(1)))
        },
        grid: {
          color: 'rgba(0,0,0,0.75)',
          lineWidth: 1,
          drawTicks: false
        },
        border: { display: true, color: '#000', width: 1, dash: GRID_DASH },
        title: {
          display: true,
          text: 'No [dBW/Hz]',
          color: '#000',
          font: { family: FONT, size: 16, lineHeight: 1.2 },
          padding: { top: 8.4, bottom: 0 }
        }
      }
    }
  },
  plugins: [axesBox]
});
</script>
</body>
</html>
